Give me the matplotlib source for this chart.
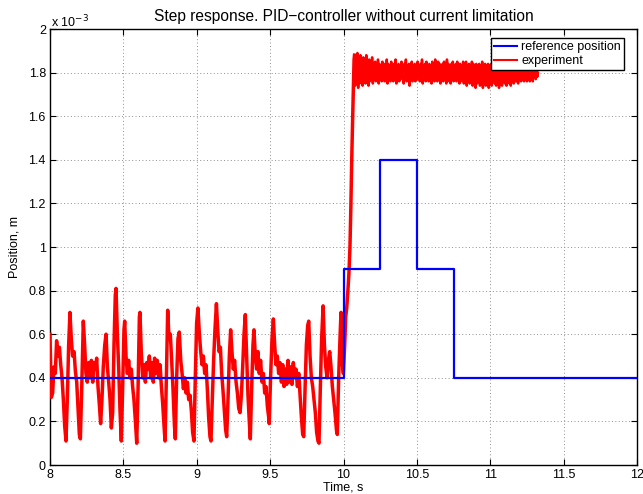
import matplotlib
matplotlib.use("Agg")
import matplotlib.pyplot as plt
from matplotlib.lines import Line2D
import numpy as np

plt.rcParams['font.family'] = ['Liberation Sans', 'DejaVu Sans']
plt.rcParams['path.simplify'] = False

# reference position, steps (values in 1e-3 m)
ref_t = [8.0, 10.0, 10.0, 10.25, 10.25, 10.5, 10.5, 10.75, 10.75, 12.0]
ref_pos = [0.4, 0.4, 0.9, 0.9, 1.4, 1.4, 0.9, 0.9, 0.4, 0.4]

# measured position before and during the step (1e-3 m)
exp_t = [
    8.000, 8.009, 8.018, 8.027, 8.036, 8.045, 8.055, 8.064, 8.073, 8.082,
    8.091, 8.100, 8.109, 8.118, 8.127, 8.136, 8.145, 8.154, 8.164, 8.173,
    8.182, 8.191, 8.200, 8.207, 8.216, 8.227, 8.236, 8.245, 8.254, 8.263,
    8.273, 8.282, 8.291, 8.300, 8.309, 8.318, 8.327, 8.336, 8.345, 8.354,
    8.363, 8.373, 8.382, 8.391, 8.400, 8.409, 8.418, 8.427, 8.436, 8.445,
    8.450, 8.459, 8.468, 8.477, 8.486, 8.495, 8.504, 8.509, 8.518, 8.527,
    8.536, 8.545, 8.554, 8.563, 8.572, 8.582, 8.591, 8.600, 8.609, 8.613,
    8.622, 8.632, 8.641, 8.650, 8.659, 8.668, 8.677, 8.686, 8.695, 8.704,
    8.713, 8.722, 8.731, 8.741, 8.750, 8.759, 8.768, 8.777, 8.784, 8.793,
    8.802, 8.811, 8.820, 8.829, 8.838, 8.848, 8.854, 8.863, 8.872, 8.881,
    8.891, 8.900, 8.909, 8.918, 8.927, 8.936, 8.945, 8.954, 8.963, 8.972,
    8.981, 8.990, 8.999, 9.008, 9.018, 9.027, 9.036, 9.045, 9.054, 9.063,
    9.072, 9.081, 9.090, 9.097, 9.106, 9.115, 9.124, 9.134, 9.143, 9.152,
    9.161, 9.170, 9.179, 9.188, 9.197, 9.204, 9.213, 9.222, 9.231, 9.240,
    9.249, 9.258, 9.268, 9.277, 9.286, 9.295, 9.304, 9.313, 9.322, 9.331,
    9.340, 9.349, 9.358, 9.365, 9.374, 9.383, 9.390, 9.399, 9.408, 9.417,
    9.426, 9.435, 9.445, 9.454, 9.463, 9.472, 9.481, 9.490, 9.494, 9.503,
    9.513, 9.522, 9.531, 9.540, 9.549, 9.558, 9.567, 9.577, 9.586, 9.595,
    9.604, 9.613, 9.622, 9.631, 9.640, 9.649, 9.658, 9.667, 9.676, 9.686,
    9.695, 9.704, 9.713, 9.722, 9.729, 9.738, 9.747, 9.756, 9.763, 9.772,
    9.781, 9.790, 9.799, 9.808, 9.817, 9.826, 9.833, 9.842, 9.851, 9.861,
    9.870, 9.879, 9.888, 9.897, 9.906, 9.915, 9.924, 9.933, 9.942, 9.952,
    9.958, 9.967, 9.977, 9.983, 9.990, 9.999, 10.008, 10.015, 10.022, 10.030,
    10.037, 10.044, 10.050, 10.056, 10.062, 10.068, 10.072,
]
exp_pos = [
    0.60, 0.31, 0.33, 0.45, 0.42, 0.57, 0.50, 0.54, 0.46, 0.40,
    0.30, 0.18, 0.11, 0.30, 0.55, 0.70, 0.58, 0.50, 0.52, 0.43,
    0.38, 0.26, 0.14, 0.12, 0.35, 0.66, 0.55, 0.42, 0.38, 0.47,
    0.40, 0.48, 0.38, 0.47, 0.44, 0.49, 0.36, 0.28, 0.19, 0.30,
    0.45, 0.55, 0.60, 0.45, 0.38, 0.30, 0.17, 0.24, 0.55, 0.78,
    0.81, 0.60, 0.45, 0.25, 0.11, 0.35, 0.62, 0.66, 0.50, 0.42,
    0.48, 0.40, 0.44, 0.36, 0.30, 0.20, 0.10, 0.35, 0.68, 0.70,
    0.52, 0.40, 0.46, 0.38, 0.47, 0.44, 0.50, 0.40, 0.47, 0.38,
    0.49, 0.42, 0.48, 0.40, 0.46, 0.36, 0.28, 0.18, 0.11, 0.40,
    0.71, 0.58, 0.60, 0.48, 0.35, 0.18, 0.12, 0.40, 0.58, 0.61,
    0.48, 0.42, 0.35, 0.40, 0.33, 0.38, 0.30, 0.32, 0.25, 0.15,
    0.11, 0.40, 0.65, 0.72, 0.60, 0.52, 0.46, 0.50, 0.42, 0.46,
    0.35, 0.22, 0.13, 0.11, 0.30, 0.48, 0.62, 0.74, 0.62, 0.52,
    0.54, 0.42, 0.34, 0.25, 0.16, 0.13, 0.30, 0.50, 0.62, 0.52,
    0.44, 0.48, 0.38, 0.33, 0.26, 0.24, 0.32, 0.45, 0.60, 0.69,
    0.50, 0.32, 0.20, 0.12, 0.35, 0.55, 0.62, 0.50, 0.44, 0.52,
    0.42, 0.48, 0.38, 0.42, 0.33, 0.36, 0.27, 0.22, 0.19, 0.40,
    0.58, 0.67, 0.55, 0.46, 0.50, 0.42, 0.47, 0.38, 0.46, 0.36,
    0.44, 0.37, 0.48, 0.38, 0.45, 0.37, 0.47, 0.40, 0.44, 0.36,
    0.42, 0.32, 0.22, 0.14, 0.13, 0.35, 0.55, 0.64, 0.66, 0.50,
    0.40, 0.36, 0.30, 0.24, 0.15, 0.11, 0.10, 0.35, 0.58, 0.73,
    0.55, 0.45, 0.40, 0.48, 0.52, 0.45, 0.36, 0.30, 0.24, 0.16,
    0.14, 0.40, 0.60, 0.70, 0.48, 0.42, 0.55, 0.68, 0.72, 0.80,
    0.88, 1.00, 1.18, 1.40, 1.58, 1.75, 1.86,
]

# measured position after settling, sampled every 5 ms (1e-3 m)
settled_t0, settled_t1 = 10.075, 11.325
settled_pos = [
    1.88, 1.74, 1.87, 1.76, 1.89, 1.73, 1.86, 1.75, 1.88, 1.77,
    1.85, 1.74, 1.87, 1.76, 1.84, 1.75, 1.88, 1.77, 1.85, 1.74,
    1.86, 1.76, 1.83, 1.78, 1.87, 1.75, 1.84, 1.77, 1.85, 1.76,
    1.83, 1.77, 1.86, 1.75, 1.84, 1.78, 1.82, 1.76, 1.85, 1.77,
    1.84, 1.76, 1.83, 1.78, 1.86, 1.75, 1.84, 1.77, 1.82, 1.76,
    1.85, 1.78, 1.83, 1.76, 1.84, 1.77, 1.86, 1.75, 1.83, 1.78,
    1.84, 1.76, 1.82, 1.77, 1.85, 1.78, 1.83, 1.75, 1.84, 1.77,
    1.86, 1.76, 1.83, 1.78, 1.84, 1.74, 1.82, 1.77, 1.85, 1.76,
    1.83, 1.78, 1.84, 1.76, 1.82, 1.77, 1.85, 1.78, 1.83, 1.76,
    1.84, 1.77, 1.86, 1.75, 1.83, 1.78, 1.84, 1.76, 1.85, 1.77,
    1.82, 1.76, 1.84, 1.78, 1.83, 1.75, 1.85, 1.77, 1.84, 1.76,
    1.86, 1.77, 1.83, 1.76, 1.85, 1.78, 1.84, 1.75, 1.83, 1.77,
    1.84, 1.76, 1.85, 1.77, 1.83, 1.75, 1.86, 1.76, 1.84, 1.78,
    1.83, 1.75, 1.84, 1.77, 1.85, 1.76, 1.83, 1.78, 1.84, 1.76,
    1.85, 1.77, 1.83, 1.75, 1.84, 1.76, 1.82, 1.77, 1.85, 1.75,
    1.84, 1.76, 1.85, 1.74, 1.83, 1.77, 1.84, 1.75, 1.83, 1.76,
    1.85, 1.74, 1.84, 1.76, 1.83, 1.73, 1.84, 1.75, 1.82, 1.76,
    1.84, 1.74, 1.83, 1.76, 1.85, 1.73, 1.83, 1.75, 1.84, 1.74,
    1.83, 1.76, 1.84, 1.73, 1.82, 1.75, 1.84, 1.74, 1.83, 1.76,
    1.84, 1.75, 1.82, 1.74, 1.83, 1.76, 1.84, 1.73, 1.82, 1.75,
    1.83, 1.74, 1.84, 1.76, 1.82, 1.75, 1.83, 1.74, 1.84, 1.76,
    1.82, 1.75, 1.84, 1.74, 1.83, 1.76, 1.82, 1.75, 1.84, 1.76,
    1.83, 1.76, 1.82, 1.75, 1.84, 1.77, 1.83, 1.76, 1.82, 1.77,
    1.83, 1.76, 1.84, 1.77, 1.82, 1.76, 1.83, 1.77, 1.82, 1.76,
    1.83, 1.77, 1.82, 1.76, 1.83, 1.78, 1.82, 1.77, 1.83, 1.78,
    1.80,
]

x_ticks = [8, 8.5, 9, 9.5, 10, 10.5, 11, 11.5, 12]
y_ticks = [0, 0.2, 0.4, 0.6, 0.8, 1.0, 1.2, 1.4, 1.6, 1.8, 2.0]

settled_t = np.linspace(settled_t0, settled_t1, len(settled_pos))

fig = plt.figure(figsize=(6.43, 4.94), dpi=100)
ax = fig.add_axes([50 / 643, 1 - 465 / 494, 587 / 643, 436 / 494])

blue = (0, 0, 1)
red = (1, 0, 0)
ax.plot(ref_t, ref_pos, color=blue, lw=1.6, zorder=4)
# slow part drawn thick to carry the sensor noise, the fast settled chatter thinner
ax.plot(exp_t + [settled_t0], exp_pos + [settled_pos[0]], color=red, lw=2.5, zorder=3)
ax.plot(settled_t, settled_pos, color=red, lw=1.8, zorder=3)

ax.set_xlim(8, 12)
ax.set_ylim(0, 2)
ax.set_xticks(x_ticks)
ax.set_yticks(y_ticks)
ax.set_xticklabels(['%g' % v for v in x_ticks])
ax.set_yticklabels(['%g' % v for v in y_ticks])
ax.tick_params(direction='in', top=True, right=True, length=4, width=0.8,
               labelsize=9, pad=3)
ax.grid(True, color='#909090', linestyle=(0, (1, 2.5)), linewidth=0.7)
for s in ax.spines.values():
    s.set_linewidth(1.0)

ax.set_xlabel('Time, s', fontsize=9, labelpad=0)
ax.set_ylabel('Position, m', fontsize=9, labelpad=6)
ax.set_title('Step response. PID\u2212controller without current limitation',
             fontsize=11.2, pad=6)
fig.text(51 / 643, 1 - 27 / 494, 'x 10$^{-3}$', fontsize=9, va='baseline', ha='left')

# thin legend lines
handles = [Line2D([], [], color=blue, lw=1.5), Line2D([], [], color=red, lw=1.5)]
leg = ax.legend(handles, ['reference position', 'experiment'],
                loc='upper right', bbox_to_anchor=((624 - 50) / 587, (465 - 38) / 436),
                borderaxespad=0, fontsize=9, fancybox=False, framealpha=1,
                edgecolor='black', handlelength=1.9, handletextpad=0.3,
                labelspacing=0.15, borderpad=0.25)
leg.get_frame().set_linewidth(1.0)
leg.set_zorder(10)

fig.savefig('out.png', dpi=100)
